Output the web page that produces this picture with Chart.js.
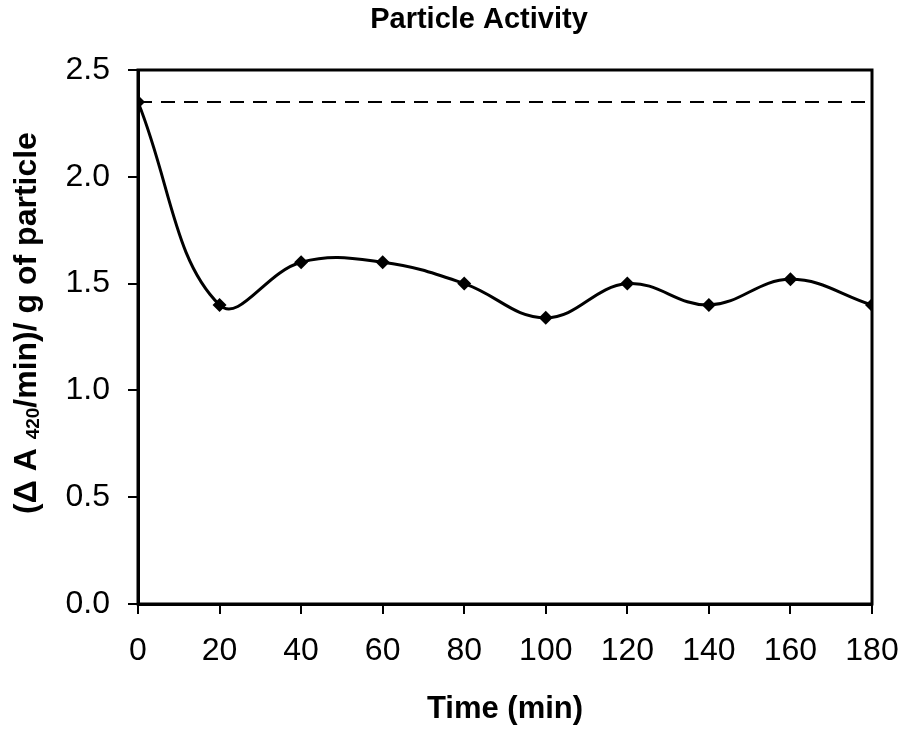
<!DOCTYPE html>
<html>
<head>
<meta charset="utf-8">
<script src="https://cdn.jsdelivr.net/npm/chart.js@4"></script>
<style>
  html, body { margin: 0; padding: 0; background: #fff; }
  #wrap { width: 904px; height: 733px; }
</style>
</head>
<body>
<div id="wrap"><canvas id="chart-activity"></canvas></div>
<script>
// ─── DATA ────────────────────────────────────────────────────
const timeMin = [0, 20, 40, 60, 80, 100, 120, 140, 160, 180];
const activity = [2.35, 1.40, 1.60, 1.60, 1.50, 1.34, 1.50, 1.40, 1.52, 1.40];
const initialLevel = 2.35;
const xTicks = [0, 20, 40, 60, 80, 100, 120, 140, 160, 180];
const yTicks = [0.0, 0.5, 1.0, 1.5, 2.0, 2.5];

const FONT = "Arial, 'Liberation Sans', sans-serif";

// titles + frame drawn by hand (needs subscript on the y title)
const decorPlugin = {
  id: 'decor',
  afterDraw(chart) {
    const { ctx, chartArea: a } = chart;
    ctx.save();
    ctx.strokeStyle = '#000';
    ctx.lineWidth = 3;
    ctx.strokeRect(a.left, a.top, a.right - a.left, a.bottom - a.top);

    ctx.fillStyle = '#000';
    ctx.textAlign = 'center';
    ctx.textBaseline = 'alphabetic';
    ctx.font = 'bold 29px ' + FONT;
    ctx.fillText('Particle Activity', 479, 28);

    ctx.font = 'bold 31px ' + FONT;
    ctx.fillText('Time (min)', 505, 718);

    // rotated y title with subscript
    const parts = [
      { t: '(\u0394 A ', f: 'bold 32px ' + FONT, dy: 0 },
      { t: '420', f: 'bold 19px ' + FONT, dy: 3 },
      { t: '/min)/ g of particle', f: 'bold 32px ' + FONT, dy: 0 },
    ];
    let total = 0;
    parts.forEach(p => { ctx.font = p.f; p.w = ctx.measureText(p.t).width; total += p.w; });
    ctx.translate(36, 323);
    ctx.rotate(-Math.PI / 2);
    ctx.textAlign = 'left';
    let x = -total / 2;
    parts.forEach(p => {
      ctx.font = p.f;
      ctx.fillText(p.t, x, p.dy);
      x += p.w;
    });
    ctx.restore();
  }
};

new Chart(document.getElementById('chart-activity'), {
  type: 'line',
  data: {
    datasets: [
      {
        label: 'Activity',
        data: timeMin.map((t, i) => ({ x: t, y: activity[i] })),
        borderColor: '#000',
        backgroundColor: '#000',
        borderWidth: 3,
        pointStyle: 'rectRot',
        pointRadius: 7,
        pointBackgroundColor: '#000',
        pointBorderWidth: 0,
        tension: 0.4,
        fill: false,
      },
      {
        label: 'Initial',
        data: [{ x: xTicks[0], y: initialLevel }, { x: xTicks[xTicks.length - 1], y: initialLevel }],
        borderColor: '#000',
        borderWidth: 2,
        borderDash: [14, 9],
        pointRadius: 0,
        fill: false,
      }
    ]
  },
  options: {
    responsive: true,
    maintainAspectRatio: false,
    animation: false,
    layout: { padding: { top: 70, right: 32, left: 0, bottom: 0 } },
    plugins: {
      legend: { display: false },
      tooltip: { enabled: false },
      title: { display: false },
    },
    scales: {
      x: {
        type: 'linear',
        min: 0,
        max: 180,
        afterFit: s => { s.height = 129; s.paddingLeft = 0; s.paddingRight = 0; },
        afterBuildTicks: s => { s.ticks = xTicks.map(v => ({ value: v })); },
        grid: { drawOnChartArea: false, drawTicks: true, tickLength: 10, color: '#000', lineWidth: 2 },
        border: { display: true, color: '#000', width: 3 },
        ticks: { color: '#000', font: { family: FONT, size: 32 }, padding: 18, maxRotation: 0 },
      },
      y: {
        min: 0,
        max: 2.5,
        afterFit: s => { s.width = 138; s.paddingTop = 0; s.paddingBottom = 0; },
        afterBuildTicks: s => { s.ticks = yTicks.map(v => ({ value: v })); },
        grid: { drawOnChartArea: false, drawTicks: true, tickLength: 10, color: '#000', lineWidth: 2 },
        border: { display: true, color: '#000', width: 3 },
        ticks: { color: '#000', font: { family: FONT, size: 32 }, padding: 18, callback: v => v.toFixed(1) },
      }
    }
  },
  plugins: [decorPlugin]
});
</script>
</body>
</html>
